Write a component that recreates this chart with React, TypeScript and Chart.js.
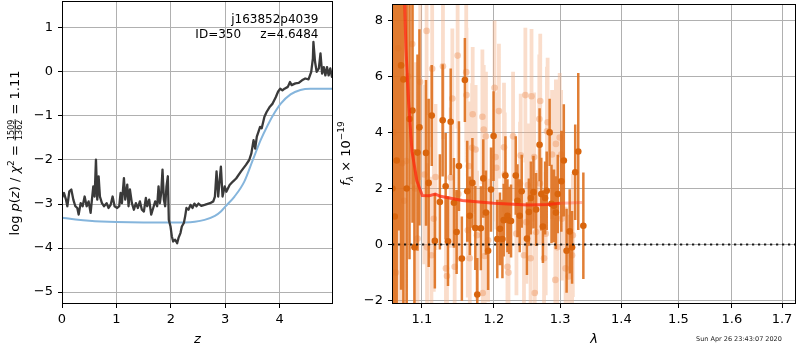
import React, { useEffect, useRef } from "react";
import { Chart, registerables } from "chart.js";
Chart.register(...registerables);

const FONT = "'DejaVu Sans', sans-serif";

// ---------- left panel: log p(z) ----------
const zSamples = [0.0, 0.037, 0.073, 0.098, 0.135, 0.171, 0.208, 0.245, 0.281, 0.306, 0.343, 0.379, 0.416, 0.453, 0.489, 0.526, 0.55, 0.575, 0.6, 0.624, 0.648, 0.673, 0.697, 0.734, 0.771, 0.82, 0.856, 0.893, 0.93, 0.966, 1.015, 1.052, 1.076, 1.101, 1.138, 1.162, 1.199, 1.223, 1.248, 1.284, 1.321, 1.358, 1.394, 1.431, 1.468, 1.505, 1.541, 1.566, 1.602, 1.639, 1.676, 1.713, 1.749, 1.774, 1.798, 1.823, 1.847, 1.872, 1.896, 1.92, 1.945, 1.963, 1.994, 2.018, 2.043, 2.08, 2.116, 2.141, 2.177, 2.202, 2.239, 2.263, 2.287, 2.324, 2.361, 2.398, 2.434, 2.471, 2.508, 2.56, 2.62, 2.72, 2.78, 2.81, 2.84, 2.87, 2.92, 2.95, 2.99, 3.02, 3.08, 3.14, 3.2, 3.29, 3.38, 3.44, 3.48, 3.52, 3.55, 3.58, 3.61, 3.64, 3.67, 3.72, 3.76, 3.82, 3.87, 3.93, 3.97, 4.01, 4.05, 4.09, 4.15, 4.19, 4.22, 4.29, 4.35, 4.41, 4.47, 4.53, 4.58, 4.61, 4.62, 4.65, 4.68, 4.72, 4.75, 4.78, 4.81, 4.84, 4.87, 4.9, 4.93, 4.96, 4.98];
const logPz = [-2.86, -2.75, -2.9, -3.05, -2.71, -2.67, -2.9, -3.05, -3.09, -3.24, -2.98, -3.05, -2.83, -3.05, -2.94, -3.2, -2.9, -2.6, -2.83, -1.99, -2.9, -2.37, -2.83, -2.98, -3.05, -2.98, -3.09, -3.02, -2.83, -3.05, -3.09, -3.05, -2.75, -2.98, -2.41, -2.9, -2.56, -3.05, -2.67, -2.98, -3.13, -2.98, -3.09, -2.94, -3.13, -3.17, -2.86, -3.05, -2.9, -3.24, -3.09, -2.94, -3.05, -2.6, -2.98, -2.75, -2.22, -2.9, -3.05, -2.6, -2.37, -3.36, -3.51, -3.73, -3.85, -3.81, -3.89, -3.77, -3.66, -3.51, -3.43, -3.28, -3.09, -3.13, -3.02, -3.09, -2.99, -3.05, -2.99, -3.04, -3.02, -2.98, -2.94, -2.83, -2.26, -2.83, -2.15, -2.83, -2.6, -2.72, -2.57, -2.49, -2.42, -2.26, -2.11, -2.0, -1.85, -1.55, -1.74, -1.47, -1.36, -1.25, -1.28, -1.02, -0.91, -0.79, -0.72, -0.57, -0.45, -0.38, -0.42, -0.38, -0.34, -0.23, -0.3, -0.26, -0.25, -0.19, -0.15, -0.17, 0.0, 0.3, 0.68, 0.23, 0.0, 0.08, 0.42, -0.04, 0.11, -0.08, 0.11, -0.08, 0.08, -0.11, -0.05];
const zPriorGrid = [0, 0.25, 0.5, 1.0, 1.5, 2.0, 2.44, 2.62, 2.81, 2.92, 3.0, 3.17, 3.35, 3.5, 3.65, 3.78, 3.9, 4.02, 4.2, 4.38, 4.56, 4.98];
const logPrior = [-3.31, -3.35, -3.38, -3.41, -3.42, -3.42, -3.4, -3.36, -3.27, -3.17, -3.06, -2.83, -2.49, -2.02, -1.55, -1.21, -0.94, -0.72, -0.51, -0.41, -0.38, -0.38];
const zTicks = [0, 1, 2, 3, 4];
const logPTicks = [-5, -4, -3, -2, -1, 0, 1];
const Z_MIN = 0, Z_MAX = 4.98, LOGP_MIN = -5.27, LOGP_MAX = 1.61;

// ---------- right panel: spectrum ----------
const lamD = [1.0615, 1.0645, 1.067, 1.07, 1.0727, 1.0757, 1.08, 1.0837, 1.0876, 1.0902, 1.0942, 1.0968, 1.1055, 1.1091, 1.1132, 1.1174, 1.1242, 1.128, 1.1321, 1.1353, 1.139, 1.1435, 1.1472, 1.1504, 1.1545, 1.1587, 1.162, 1.1656, 1.1693, 1.1734, 1.1762, 1.1813, 1.1848, 1.1886, 1.1917, 1.1959, 1.1996, 1.205, 1.2089, 1.2125, 1.2144, 1.2169, 1.2199, 1.2223, 1.2252, 1.2322, 1.2347, 1.2381, 1.2411, 1.249, 1.2519, 1.2549, 1.2589, 1.2629, 1.2682, 1.2708, 1.2733, 1.2767, 1.2792, 1.2837, 1.2866, 1.2905, 1.2935, 1.2964, 1.302, 1.3059, 1.3103, 1.3152, 1.319, 1.324, 1.3289, 1.3371];
const fluxD = [2.0, 1.0, 3.0, 9.5, 6.39, 5.89, 2.0, 4.48, 4.78, -0.1, 3.28, 4.18, 3.27, 2.2, 4.6, 0.13, 1.52, 4.43, 2.08, 0.12, 4.38, 1.49, 0.45, 2.8, -0.5, 5.87, 1.9, 1.03, 2.2, 0.59, -1.78, 0.58, 2.36, 1.14, -0.22, 1.96, 3.87, 0.2, 0.56, 0.2, 0.87, 2.46, 1.03, 0.86, 0.84, 2.46, 1.56, 1.03, 1.9, 0.21, 1.16, 1.66, 1.87, 1.25, 3.56, 1.8, 0.64, 1.66, 1.92, 4.0, 1.45, 1.38, 1.14, 1.8, 2.26, 3.0, -0.22, 0.47, -0.1, 2.58, 3.32, 0.67];
const errD = [14, 13, 12, 9, 8, 8, 7, 5, 4, 3.5, 3.5, 3.5, 2.6, 3.0, 1.8, 1.7, 1.7, 2.0, 1.9, 1.6, 1.9, 1.6, 1.5, 1.6, 1.5, 1.5, 1.8, 1.4, 1.6, 1.5, 1.3, 1.5, 1.4, 1.5, 1.4, 1.5, 1.6, 1.4, 1.3, 1.4, 1.3, 1.4, 1.3, 1.2, 1.3, 1.4, 1.3, 1.3, 1.3, 1.3, 1.2, 1.3, 1.3, 1.3, 1.3, 1.3, 1.3, 1.3, 1.4, 1.2, 1.4, 1.3, 1.3, 1.4, 1.8, 2.0, 1.5, 1.5, 1.3, 1.7, 2.8, 1.9];

const lamF = [1.0625, 1.066, 1.069, 1.074, 1.0767, 1.0793, 1.082, 1.0872, 1.091, 1.0942, 1.0978, 1.1032, 1.1063, 1.1069, 1.1128, 1.1138, 1.116, 1.1183, 1.1284, 1.1325, 1.1339, 1.139, 1.1413, 1.1445, 1.1486, 1.1496, 1.1606, 1.161, 1.1628, 1.1642, 1.1656, 1.1689, 1.1697, 1.1738, 1.1758, 1.1835, 1.184, 1.1854, 1.1868, 1.1886, 1.1917, 1.201, 1.2025, 1.2036, 1.2074, 1.2148, 1.2159, 1.2199, 1.2214, 1.2282, 1.2332, 1.2386, 1.2396, 1.2445, 1.2466, 1.2481, 1.2504, 1.2545, 1.2559, 1.2599, 1.2608, 1.2629, 1.2678, 1.2688, 1.2692, 1.2751, 1.2776, 1.2795, 1.2806, 1.2875, 1.2926, 1.2935, 1.2955, 1.2994, 1.3016, 1.3026, 1.3087, 1.3136, 1.319, 1.3202];
const fluxF = [4.0, -1.0, 7.0, 2.9, 1.56, 2.98, 6.0, 7.15, 2.0, 0.21, 5.8, 2.5, 7.62, -0.1, -0.38, 6.27, 0.92, 2.41, 6.36, -0.85, -1.12, 2.39, 5.21, -0.79, 6.74, 1.8, 6.15, 5.33, 0.51, 2.8, -0.49, 3.45, 4.65, 3.39, 0.33, 4.56, -1.73, 4.1, -0.41, 3.86, 0.15, 5.59, 3.12, 2.74, 4.76, 3.47, 2.51, -0.79, -1.0, 3.86, 0.39, 2.18, 3.18, -0.38, 5.33, 0.8, 2.12, -0.49, 5.29, 3.12, -1.73, 0.45, 4.48, 2.18, 5.12, -0.49, 0.39, 4.04, 4.36, 3.21, -1.26, 3.59, -0.1, 3.82, 3.21, 0.92, -0.85, -1.14, -0.38, 0.33];
const errF = [12, 11, 10, 9, 8, 7, 6, 5, 4.5, 4, 3.5, 3.2, 3.0, 3.0, 2.8, 2.8, 2.6, 2.6, 2.6, 2.5, 2.5, 2.5, 2.5, 2.4, 2.6, 2.4, 2.5, 2.4, 2.4, 2.3, 2.4, 2.3, 2.4, 2.3, 2.3, 2.4, 2.2, 2.3, 2.3, 2.3, 2.2, 2.4, 2.3, 2.2, 2.4, 2.3, 2.2, 2.2, 2.2, 2.3, 2.2, 2.2, 2.2, 2.2, 2.4, 2.2, 2.2, 2.2, 2.4, 2.3, 2.2, 2.2, 2.3, 2.2, 2.4, 2.2, 2.2, 2.3, 2.3, 2.3, 2.2, 2.3, 2.2, 2.3, 2.3, 2.2, 2.2, 2.2, 2.2, 2.2];

const lamModel = [1.076, 1.079, 1.0825, 1.0869, 1.0934, 1.1006, 1.11, 1.118, 1.125, 1.155, 1.2, 1.25, 1.28, 1.3];
const fluxModel = [10.0, 7.0, 5.1, 3.33, 2.27, 1.75, 1.74, 1.8, 1.72, 1.57, 1.47, 1.41, 1.43, 1.47];
const lamTail = [1.3, 1.315, 1.335];
const fluxTail = [1.47, 1.48, 1.5];
const lamTicks = [1.1, 1.2, 1.3, 1.4, 1.5, 1.6, 1.7];
const fluxTicks = [-2, 0, 2, 4, 6, 8];
const LAM_MIN = 1.061, LAM_MAX = 1.729, FLUX_MIN = -2.12, FLUX_MAX = 8.58;

const fmtMinus = (v: number, d = 0) => (d ? Number(v).toFixed(d) : String(v)).replace("-", "\u2212");

function pts(xs: number[], ys: number[]) {
  return xs.map((x, i) => ({ x, y: ys[i] }));
}
function errSegments(xs: number[], ys: number[], es: number[]) {
  const out: any[] = [];
  xs.forEach((x, i) => {
    out.push({ x, y: ys[i] - es[i] }, { x, y: ys[i] + es[i] }, { x, y: null });
  });
  return out;
}

type Seg = { t?: string; px: number; it?: boolean; dy?: number; num?: string; den?: string };
const segFont = (s: Seg) => `${s.it ? "italic " : ""}${s.px}px ${FONT}`;
function drawRich(ctx: CanvasRenderingContext2D, segs: Seg[], cx: number, cy: number, rot: boolean) {
  ctx.save();
  ctx.translate(cx, cy);
  if (rot) ctx.rotate(-Math.PI / 2);
  const widths = segs.map((s) => {
    ctx.font = segFont(s);
    if (s.num) return Math.max(ctx.measureText(s.num).width, ctx.measureText(s.den || "").width) + 2;
    return ctx.measureText(s.t || "").width;
  });
  const W = widths.reduce((a, b) => a + b, 0);
  let x = -W / 2;
  ctx.fillStyle = "#000";
  ctx.textBaseline = "alphabetic";
  segs.forEach((s, i) => {
    ctx.font = segFont(s);
    const w = widths[i];
    if (s.num) {
      ctx.textAlign = "center";
      ctx.fillText(s.num, x + w / 2, -4.8);
      ctx.fillText(s.den || "", x + w / 2, 2.6);
      ctx.fillRect(x + 0.5, -4.3, w - 1, 0.8);
    } else {
      ctx.textAlign = "left";
      ctx.fillText(s.t || "", x, s.dy || 0);
    }
    x += w;
  });
  ctx.restore();
}

const framePlugin = {
  id: "frame",
  afterDraw(chart: any) {
    const { ctx, chartArea: a } = chart;
    ctx.save();
    ctx.strokeStyle = "#000";
    ctx.lineWidth = 1;
    ctx.strokeRect(a.left + 0.5, a.top + 0.5, a.right - a.left - 1, a.bottom - a.top - 1);
    ctx.restore();
  },
};

const gridCfg = { color: "#b0b0b0", lineWidth: 1, tickColor: "#000", tickLength: 4, drawTicks: true };
const tickFont = { family: FONT, size: 13 };

function xScale(extra: any, height: number) {
  return {
    ...extra,
    grid: gridCfg,
    border: { display: false },
    ticks: { ...(extra.ticks || {}), font: tickFont, color: "#000", padding: 4, maxRotation: 0, autoSkip: false },
    afterFit: (s: any) => {
      s.height = height;
      s.paddingLeft = 0;
      s.paddingRight = 0;
    },
  };
}
function yScale(extra: any, width: number) {
  return {
    ...extra,
    grid: gridCfg,
    border: { display: false },
    ticks: { ...(extra.ticks || {}), font: tickFont, color: "#000", padding: 5, autoSkip: false },
    afterFit: (s: any) => {
      s.width = width;
      s.paddingTop = 0;
      s.paddingBottom = 0;
    },
  };
}

export default function App() {
  const leftRef = useRef<HTMLCanvasElement | null>(null);
  const rightRef = useRef<HTMLCanvasElement | null>(null);

  useEffect(() => {
    document.body.style.margin = "0";
    const left = new Chart(leftRef.current as HTMLCanvasElement, {
      type: "scatter",
      data: {
        datasets: [
          {
            data: pts(zSamples, logPz),
            showLine: true,
            borderColor: "#3a3a3a",
            borderWidth: 2.3,
            borderJoinStyle: "round",
            pointRadius: 0,
          } as any,
          {
            data: pts(zPriorGrid, logPrior),
            showLine: true,
            borderColor: "#85b5dc",
            borderWidth: 2,
            cubicInterpolationMode: "monotone",
            pointRadius: 0,
          } as any,
        ],
      },
      options: {
        responsive: false,
        animation: false,
        events: [],
        layout: { padding: { left: 0, top: 1, right: 467, bottom: 0 } },
        plugins: { legend: { display: false }, tooltip: { enabled: false } },
        scales: {
          x: xScale(
            {
              type: "linear",
              min: Z_MIN,
              max: Z_MAX,
              ticks: { callback: (v: any) => fmtMinus(v) },
              afterBuildTicks: (s: any) => {
                s.ticks = zTicks.map((value) => ({ value }));
              },
            },
            46
          ),
          y: yScale(
            {
              type: "linear",
              min: LOGP_MIN,
              max: LOGP_MAX,
              ticks: { callback: (v: any) => fmtMinus(v) },
              afterBuildTicks: (s: any) => {
                s.ticks = logPTicks.map((value) => ({ value }));
              },
            },
            62
          ),
        },
      } as any,
      plugins: [
        framePlugin,
        {
          id: "leftText",
          afterDraw(chart: any) {
            const { ctx, chartArea: a } = chart;
            ctx.save();
            ctx.fillStyle = "#000";
            ctx.font = `12px ${FONT}`;
            ctx.textAlign = "right";
            ctx.textBaseline = "middle";
            ctx.fillText("j163852p4039", a.right - 14.5, 19.5);
            ctx.fillText("ID=350     z=4.6484", a.right - 14.5, 34.5);
            ctx.restore();
            drawRich(ctx, [{ t: "z", px: 13, it: true }], (a.left + a.right) / 2, 343, false);
            drawRich(
              ctx,
              [
                { t: "log ", px: 13 },
                { t: "p", px: 13, it: true },
                { t: "(", px: 13 },
                { t: "z", px: 13, it: true },
                { t: ") / ", px: 13 },
                { t: "\u03c7", px: 13, it: true },
                { t: "2", px: 9, dy: -5.5 },
                { t: " = ", px: 13 },
                { num: "1509", den: "1362", px: 8 },
                { t: " = 1.11", px: 13 },
              ],
              19,
              153,
              true
            );
          },
        },
      ],
    });

    const right = new Chart(rightRef.current as HTMLCanvasElement, {
      type: "scatter",
      data: {
        datasets: [
          {
            data: [
              { x: LAM_MIN, y: 0 },
              { x: LAM_MAX, y: 0 },
            ],
            showLine: true,
            borderColor: "rgba(0,0,0,0.85)",
            borderWidth: 2,
            borderDash: [2.2, 3.8],
            pointRadius: 0,
          } as any,
          {
            data: pts(lamModel, fluxModel),
            showLine: true,
            borderColor: "rgba(255,35,10,0.72)",
            borderWidth: 3,
            pointRadius: 0,
          } as any,
          {
            data: pts(lamTail, fluxTail),
            showLine: true,
            borderColor: "rgba(255,60,40,0.35)",
            borderWidth: 3,
            pointRadius: 0,
          } as any,
          {
            data: pts(lamD, fluxD),
            pointRadius: 3.3,
            pointBackgroundColor: "#d9650d",
            pointBorderWidth: 0,
            borderColor: "#d9650d",
          } as any,
          {
            data: errSegments(lamD, fluxD, errD),
            showLine: true,
            spanGaps: false,
            borderColor: "rgba(222,112,30,0.9)",
            borderWidth: 2.5,
            borderCapStyle: "butt",
            pointRadius: 0,
          } as any,
          {
            data: pts(lamF, fluxF),
            pointRadius: 3.3,
            pointBackgroundColor: "rgba(240,160,110,0.5)",
            pointBorderWidth: 0,
            borderColor: "rgba(240,160,110,0.5)",
          } as any,
          {
            data: errSegments(lamF, fluxF, errF),
            showLine: true,
            spanGaps: false,
            borderColor: "rgba(243,175,130,0.42)",
            borderWidth: 3.8,
            borderCapStyle: "butt",
            pointRadius: 0,
          } as any,
        ],
      },
      options: {
        responsive: false,
        animation: false,
        events: [],
        layout: { padding: { left: 340, top: 1, right: 1, bottom: 0 } },
        plugins: { legend: { display: false }, tooltip: { enabled: false } },
        scales: {
          x: xScale(
            {
              type: "logarithmic",
              min: LAM_MIN,
              max: LAM_MAX,
              ticks: { callback: (v: any) => Number(v).toFixed(1) },
              afterBuildTicks: (s: any) => {
                s.ticks = lamTicks.map((value) => ({ value }));
              },
            },
            46
          ),
          y: yScale(
            {
              type: "linear",
              min: FLUX_MIN,
              max: FLUX_MAX,
              ticks: { callback: (v: any) => fmtMinus(v) },
              afterBuildTicks: (s: any) => {
                s.ticks = fluxTicks.map((value) => ({ value }));
              },
            },
            52
          ),
        },
      } as any,
      plugins: [
        framePlugin,
        {
          id: "rightText",
          afterDraw(chart: any) {
            const { ctx, chartArea: a } = chart;
            drawRich(ctx, [{ t: "\u03bb", px: 13, it: true }], (a.left + a.right) / 2, 343, false);
            drawRich(
              ctx,
              [
                { t: "f", px: 13, it: true },
                { t: "\u03bb", px: 9, it: true, dy: 3 },
                { t: " \u00d7 10", px: 13 },
                { t: "\u221219", px: 9, dy: -6 },
              ],
              349.5,
              153.5,
              true
            );
            ctx.save();
            ctx.fillStyle = "#222";
            ctx.font = `6.5px ${FONT}`;
            ctx.textAlign = "left";
            ctx.textBaseline = "middle";
            ctx.fillText("Sun Apr 26 23:43:07 2020", 696, 339.5);
            ctx.restore();
          },
        },
      ],
    });

    return () => {
      left.destroy();
      right.destroy();
    };
  }, []);

  const cstyle: React.CSSProperties = { position: "absolute", left: 0, top: 0, width: 800, height: 350 };
  return (
    <div style={{ position: "absolute", left: 0, top: 0, width: 800, height: 350, background: "#fff" }}>
      <canvas ref={leftRef} width={800} height={350} style={cstyle} />
      <canvas ref={rightRef} width={800} height={350} style={cstyle} />
    </div>
  );
}
